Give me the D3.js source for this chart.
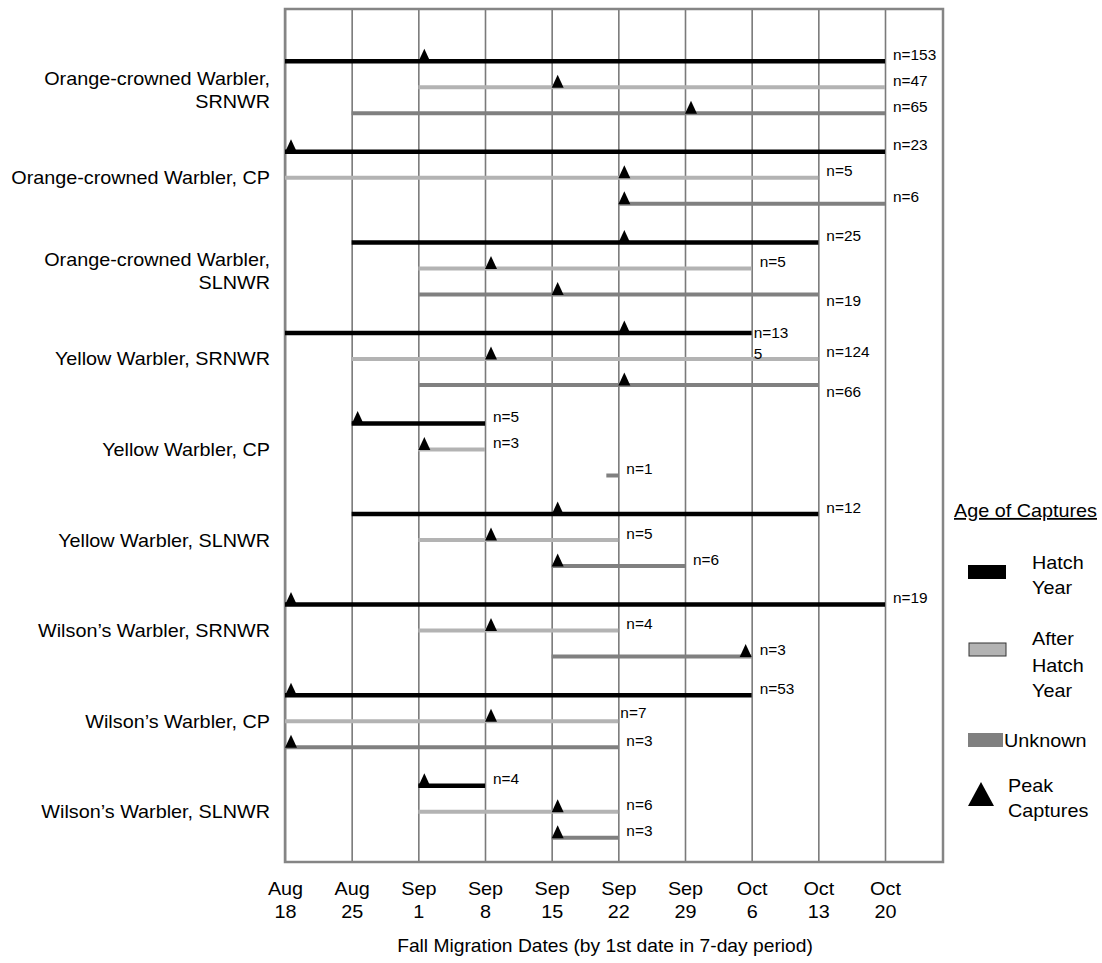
<!DOCTYPE html>
<html>
<head>
<meta charset="utf-8">
<script src="https://cdn.jsdelivr.net/npm/d3@7"></script>
<style>
  body { margin: 0; background: #fff; }
  text { font-family: "Liberation Sans", Arial, sans-serif; fill: #000; }
</style>
</head>
<body>
<div id="chart"></div>
<script>
// week tick labels (first date in each 7-day period)
const weekLabels = [["Aug","18"],["Aug","25"],["Sep","1"],["Sep","8"],["Sep","15"],
                    ["Sep","22"],["Sep","29"],["Oct","6"],["Oct","13"],["Oct","20"]];

const groupLabels = [
  ["Orange-crowned Warbler,", "SRNWR"],
  ["Orange-crowned Warbler, CP"],
  ["Orange-crowned Warbler,", "SLNWR"],
  ["Yellow Warbler, SRNWR"],
  ["Yellow Warbler, CP"],
  ["Yellow Warbler, SLNWR"],
  ["Wilson\u2019s Warbler, SRNWR"],
  ["Wilson\u2019s Warbler, CP"],
  ["Wilson\u2019s Warbler, SLNWR"]
];

const ages = ["Hatch Year", "After Hatch Year", "Unknown"];

// one row per group, one entry per age class (week index 0 = Aug 18)
const startWeek = [[0,2,1],[0,0,5],[1,2,2],[0,1,2],[1,2,5],[1,2,4],[0,2,4],[0,0,0],[2,2,4]];
const endWeek   = [[9,9,9],[9,8,9],[8,7,8],[7,8,8],[3,3,5],[8,5,6],[9,5,7],[7,5,5],[3,5,5]];
const peakWeek  = [[2,4,6],[0,5,5],[5,3,4],[5,3,5],[1,2,null],[4,3,4],[0,3,7],[0,3,0],[2,4,4]];
const nCaptures = [[153,47,65],[23,5,6],[25,5,19],[135,124,66],[5,3,1],[12,5,6],[19,4,3],[53,7,3],[4,6,3]];
// where the n= label sits next to the bar end
const nLabelPlace = [["above","above","above"],["above","above","above"],["above","above","below"],
                     ["wrap","above","below"],["above","above","above"],["above","above","above"],
                     ["above","above","above"],["above","tight","above"],["above","above","above"]];

const W = 1102, H = 963;
const plotLeft = 285, plotRight = 943, plotTop = 9, plotBottom = 862;
const sx = 1.1; // text is a bit wide in the original

const ageColor = {"Hatch Year": "#000000", "After Hatch Year": "#b3b3b3", "Unknown": "#808080"};
const ageWidth = {"Hatch Year": 4.5, "After Hatch Year": 4, "Unknown": 4};

const svg = d3.select("#chart").append("svg")
  .attr("width", W)
  .attr("height", H);

svg.append("rect").attr("width", W).attr("height", H).attr("fill", "#fff");

function addText(parent, x, y, str, size, anchor) {
  return parent.append("text")
    .attr("transform", "translate(" + x + "," + y + ") scale(" + sx + ",1)")
    .attr("font-size", size)
    .attr("text-anchor", anchor || "start")
    .text(str);
}

// scales
const x = d3.scaleLinear()
  .domain([0, weekLabels.length - 1])
  .range([plotLeft, 885]);

const yGroup = d3.scaleBand()
  .domain(groupLabels.map((d, i) => i))
  .range([42, 857]);

const yAge = d3.scalePoint()
  .domain(ages)
  .range([-26, 26]);

const rowY = (g, a) => yGroup(g) + yGroup.bandwidth() / 2 + yAge(ages[a]);

// gridlines + tick labels
const xAxis = d3.axisBottom(x)
  .tickValues(d3.range(weekLabels.length))
  .tickSize(-(plotBottom - plotTop))
  .tickFormat("");

const gx = svg.append("g")
  .attr("transform", "translate(0," + plotBottom + ")")
  .call(xAxis);
gx.select(".domain").remove();
gx.selectAll(".tick line").attr("stroke", "#7a7a7a").attr("stroke-width", 1.6);
gx.selectAll(".tick text").remove();
gx.selectAll(".tick").each(function(d) {
  const t = d3.select(this);
  addText(t, 0, 33, weekLabels[d][0], 18, "middle");
  addText(t, 0, 56, weekLabels[d][1], 18, "middle");
});

// frame
svg.append("rect")
  .attr("x", plotLeft).attr("y", plotTop)
  .attr("width", plotRight - plotLeft).attr("height", plotBottom - plotTop)
  .attr("fill", "none")
  .attr("stroke", "#858585")
  .attr("stroke-width", 2.5);

// axis title
addText(svg, (plotLeft + 925) / 2, 952, "Fall Migration Dates (by 1st date in 7-day period)", 17.5, "middle");

// group labels
groupLabels.forEach((lines, g) => {
  const mid = yGroup(g) + yGroup.bandwidth() / 2;
  if (lines.length === 1) {
    addText(svg, 270, mid + 6.5, lines[0], 18, "end");
  } else {
    addText(svg, 270, mid - 2, lines[0], 18, "end");
    addText(svg, 270, mid + 21, lines[1], 18, "end");
  }
});

// bars, peaks, n labels
const rows = [];
groupLabels.forEach((lines, g) => {
  ages.forEach((age, a) => {
    rows.push({g: g, age: age, start: startWeek[g][a], end: endWeek[g][a],
               peak: peakWeek[g][a], n: nCaptures[g][a], place: nLabelPlace[g][a], y: rowY(g, a)});
  });
});

const barG = svg.append("g");
barG.selectAll("line")
  .data(rows)
  .join("line")
  .attr("x1", d => d.start === d.end ? x(d.end) - 12 : x(d.start))
  .attr("x2", d => x(d.end))
  .attr("y1", d => d.y)
  .attr("y2", d => d.y)
  .attr("stroke", d => ageColor[d.age])
  .attr("stroke-width", d => ageWidth[d.age]);

// peak triangles sit just inside the bar at the peak week
const tri = (cx, by, w, h) => "M" + (cx - w / 2) + "," + by + "L" + (cx + w / 2) + "," + by + "L" + cx + "," + (by - h) + "Z";
barG.selectAll("path")
  .data(rows.filter(d => d.peak !== null))
  .join("path")
  .attr("d", d => {
    const cx = (d.peak === d.end && d.peak !== d.start) ? x(d.peak) - 6 : x(d.peak) + 6;
    return tri(cx, d.y + 0.5, 12, 13);
  })
  .attr("fill", "#000");

const labG = svg.append("g");
rows.forEach(d => {
  const ex = x(d.end);
  if (d.place === "wrap") {
    const s = "n=" + d.n;
    addText(labG, ex + 2, d.y + 5, s.slice(0, 4), 14);
    addText(labG, ex + 2, d.y + 26, s.slice(4), 14);
  } else if (d.place === "below") {
    addText(labG, ex + 8, d.y + 12, "n=" + d.n, 14);
  } else if (d.place === "tight") {
    addText(labG, ex + 2, d.y - 3, "n=" + d.n, 14);
  } else {
    addText(labG, ex + 8, d.y - 1.5, "n=" + d.n, 14);
  }
});

// legend
const leg = svg.append("g");
addText(leg, 954, 517, "Age of Captures", 18).attr("text-decoration", "underline");

leg.append("rect").attr("x", 968).attr("y", 565).attr("width", 38).attr("height", 14)
  .attr("fill", ageColor["Hatch Year"]);
addText(leg, 1032, 569, "Hatch", 18);
addText(leg, 1032, 594, "Year", 18);

leg.append("rect").attr("x", 969).attr("y", 643).attr("width", 37).attr("height", 13)
  .attr("fill", ageColor["After Hatch Year"]).attr("stroke", "#333").attr("stroke-width", 1);
addText(leg, 1032, 645, "After", 18);
addText(leg, 1032, 672, "Hatch", 18);
addText(leg, 1032, 697, "Year", 18);

leg.append("rect").attr("x", 968).attr("y", 733).attr("width", 35).attr("height", 14)
  .attr("fill", ageColor["Unknown"]);
addText(leg, 1004, 747, "Unknown", 18);

leg.append("path").attr("d", tri(981, 806, 26, 24)).attr("fill", "#000");
addText(leg, 1008, 792, "Peak", 18);
addText(leg, 1008, 817, "Captures", 18);
</script>
</body>
</html>
